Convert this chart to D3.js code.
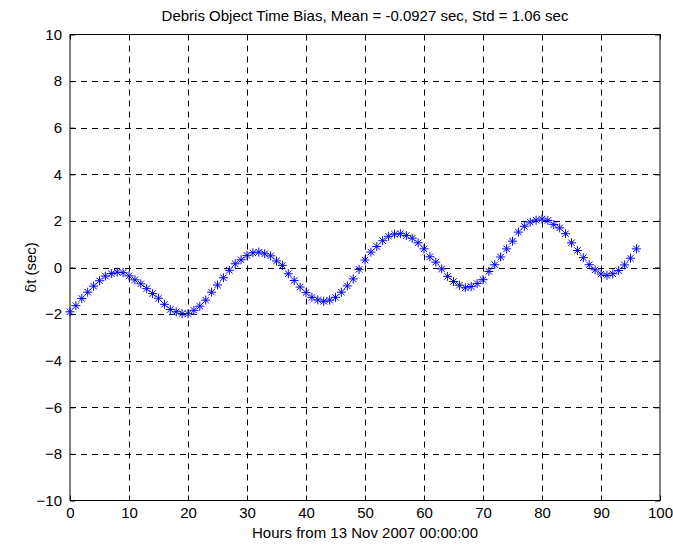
<!DOCTYPE html>
<html>
<head>
<meta charset="utf-8">
<script src="https://cdn.jsdelivr.net/npm/d3@7"></script>
<style>
  body { margin: 0; background: #fff; }
  text { font-family: "Liberation Sans", Arial, sans-serif; fill: #000; }
</style>
</head>
<body>
<svg width="673" height="548"></svg>
<script>
// hours from 13 Nov 2007 00:00:00
var hours = [0,1,2,3,4,5,6,7,8,9,10,11,12,13,14,15,16,17,18,19,20,21,22,23,24,25,26,27,28,29,30,31,32,33,34,35,36,37,38,39,40,41,42,43,44,45,46,47,48,49,50,51,52,53,54,55,56,57,58,59,60,61,62,63,64,65,66,67,68,69,70,71,72,73,74,75,76,77,78,79,80,81,82,83,84,85,86,87,88,89,90,91,92,93,94,95,96];
// time bias dt (sec)
var bias = [-1.90,-1.64,-1.33,-1.06,-0.80,-0.57,-0.37,-0.26,-0.20,-0.22,-0.36,-0.53,-0.70,-0.91,-1.12,-1.32,-1.58,-1.80,-1.90,-1.98,
  -1.98,-1.84,-1.66,-1.40,-1.06,-0.75,-0.44,-0.12,0.16,0.33,0.52,0.63,0.66,0.59,0.50,0.28,0.09,-0.27,-0.56,-0.84,
  -1.08,-1.28,-1.39,-1.45,-1.40,-1.28,-1.06,-0.79,-0.49,-0.08,0.32,0.66,0.90,1.15,1.34,1.43,1.45,1.37,1.26,1.06,
  0.80,0.46,0.23,-0.06,-0.38,-0.60,-0.76,-0.87,-0.82,-0.69,-0.52,-0.17,0.12,0.45,0.80,1.13,1.52,1.77,1.95,2.03,
  2.08,2.02,1.84,1.70,1.45,1.06,0.73,0.42,0.12,-0.10,-0.28,-0.34,-0.27,-0.13,0.11,0.40,0.80];
var xTicks = [0,10,20,30,40,50,60,70,80,90,100];
var yTicks = [-10,-8,-6,-4,-2,0,2,4,6,8,10];

var titleText = "Debris Object Time Bias, Mean = -0.0927 sec, Std = 1.06 sec";
var xLabel = "Hours from 13 Nov 2007 00:00:00";

var svg = d3.select("svg");
var pLeft = 70, pRight = 660, pTop = 34.5, pBottom = 500.5;

var x = d3.scaleLinear().domain([0, 100]).range([pLeft, pRight]);
var y = d3.scaleLinear().domain([-10, 10]).range([pBottom, pTop]);

// dashed grid
var grid = svg.append("g").attr("stroke", "#000").attr("stroke-width", 1).attr("stroke-dasharray", "6,5");
grid.selectAll("line.gx").data(xTicks.slice(1, -1)).enter().append("line")
  .attr("x1", d => Math.round(x(d)) + 0.5).attr("x2", d => Math.round(x(d)) + 0.5)
  .attr("y1", pTop).attr("y2", pBottom);
grid.selectAll("line.gy").data(yTicks.slice(1, -1)).enter().append("line")
  .attr("y1", d => Math.round(y(d)) + 0.5).attr("y2", d => Math.round(y(d)) + 0.5)
  .attr("x1", pLeft).attr("x2", pRight);

// axes with inward ticks on all four sides
var fmt = d3.format("d");
var axB = svg.append("g").attr("transform", "translate(0," + pBottom + ")")
  .call(d3.axisBottom(x).tickValues(xTicks).tickFormat(fmt).tickSizeInner(-5).tickSizeOuter(0).tickPadding(7));
var axT = svg.append("g").attr("transform", "translate(0," + pTop + ")")
  .call(d3.axisTop(x).tickValues(xTicks).tickFormat("").tickSizeInner(-5).tickSizeOuter(0));
var axL = svg.append("g").attr("transform", "translate(" + pLeft + ",0)")
  .call(d3.axisLeft(y).tickValues(yTicks).tickFormat(fmt).tickSizeInner(-5).tickSizeOuter(0).tickPadding(8));
var axR = svg.append("g").attr("transform", "translate(" + pRight + ",0)")
  .call(d3.axisRight(y).tickValues(yTicks).tickFormat("").tickSizeInner(-5).tickSizeOuter(0));
[axB, axT, axL, axR].forEach(function (g) {
  g.select(".domain").remove();
  g.selectAll("line").attr("stroke", "#000");
  g.selectAll("text").style("font-size", "15px").attr("font-family", null);
});

// frame
svg.append("rect").attr("x", pLeft).attr("y", pTop).attr("width", pRight - pLeft).attr("height", pBottom - pTop)
  .attr("fill", "none").attr("stroke", "#000").attr("stroke-width", 1);

// star markers
var s = 4.5;
var star = "M" + (-s) + ",0L" + s + ",0M0," + (-s) + "L0," + s +
  "M" + (-s * 0.72) + "," + (-s * 0.72) + "L" + (s * 0.72) + "," + (s * 0.72) +
  "M" + (-s * 0.72) + "," + (s * 0.72) + "L" + (s * 0.72) + "," + (-s * 0.72);
svg.append("g").selectAll("path").data(hours).enter().append("path")
  .attr("transform", (d, i) => "translate(" + x(d) + "," + y(bias[i]) + ")")
  .attr("d", star).attr("fill", "none").attr("stroke", "#0000ff").attr("stroke-width", 1);

// title and labels
svg.append("text").attr("x", (pLeft + pRight) / 2).attr("y", 21).attr("text-anchor", "middle")
  .style("font-size", "15px").text(titleText);
svg.append("text").attr("x", (pLeft + pRight) / 2).attr("y", 538).attr("text-anchor", "middle")
  .style("font-size", "15px").text(xLabel);
var yl = svg.append("text").attr("transform", "translate(36," + y(0) + ") rotate(-90)")
  .attr("text-anchor", "middle").style("font-size", "15px");
yl.append("tspan").attr("font-family", "'DejaVu Serif', serif").text("δ");
yl.append("tspan").text("t (sec)");
</script>
</body>
</html>
